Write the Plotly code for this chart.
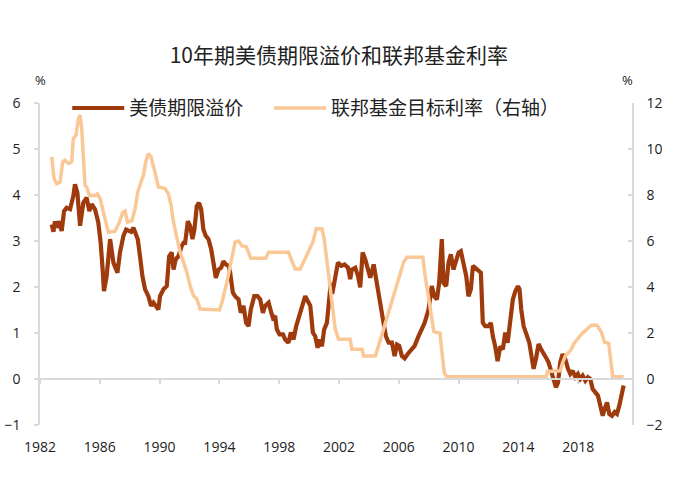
import plotly.graph_objects as go

# --- data ---
tp_years = [1982.78, 1982.90, 1983.00, 1983.12, 1983.23, 1983.45, 1983.61, 1983.78, 1984.01, 1984.23,
            1984.34, 1984.50, 1984.68, 1984.90, 1985.12, 1985.30, 1985.46, 1985.68, 1985.90, 1986.06,
            1986.19, 1986.28, 1986.46, 1986.69, 1986.91, 1987.18, 1987.35, 1987.58, 1987.76, 1987.91,
            1988.10, 1988.25, 1988.36, 1988.54, 1988.69, 1988.85, 1989.03, 1989.25, 1989.43, 1989.59,
            1989.74, 1989.92, 1990.03, 1990.26, 1990.48, 1990.64, 1990.81, 1990.93, 1991.08, 1991.26,
            1991.48, 1991.60, 1991.71, 1991.89, 1992.04, 1992.20, 1992.33, 1992.49, 1992.64, 1992.78,
            1992.93, 1993.09, 1993.27, 1993.45, 1993.60, 1993.76, 1993.94, 1994.12, 1994.27, 1994.43,
            1994.61, 1994.72, 1994.90, 1995.05, 1995.28, 1995.43, 1995.61, 1995.79, 1995.95, 1996.10,
            1996.33, 1996.55, 1996.73, 1996.91, 1997.06, 1997.29, 1997.44, 1997.58, 1997.73, 1997.84,
            1998.02, 1998.25, 1998.40, 1998.62, 1998.78, 1998.96, 1999.14, 1999.36, 1999.58, 1999.74,
            1999.90, 2000.08, 2000.25, 2000.41, 2000.57, 2000.70, 2000.86, 2001.01, 2001.19, 2001.37,
            2001.45, 2001.55, 2001.75, 2001.93, 2002.15, 2002.37, 2002.60, 2002.75, 2002.86, 2003.09,
            2003.27, 2003.42, 2003.58, 2003.76, 2003.94, 2004.09, 2004.32, 2004.47, 2004.65, 2004.83,
            2004.98, 2005.14, 2005.32, 2005.54, 2005.72, 2005.88, 2006.03, 2006.21, 2006.39, 2006.61,
            2006.84, 2007.06, 2007.28, 2007.51, 2007.73, 2007.99, 2008.21, 2008.37, 2008.55, 2008.70,
            2008.88, 2008.99, 2009.17, 2009.33, 2009.48, 2009.66, 2009.84, 2010.00, 2010.15, 2010.33,
            2010.51, 2010.66, 2010.82, 2010.96, 2011.11, 2011.33, 2011.49, 2011.62, 2011.78, 2012.00,
            2012.16, 2012.29, 2012.45, 2012.61, 2012.79, 2012.96, 2013.12, 2013.28, 2013.45, 2013.63,
            2013.79, 2013.97, 2014.08, 2014.19, 2014.35, 2014.57, 2014.73, 2014.91, 2015.02, 2015.17,
            2015.35, 2015.53, 2015.75, 2015.91, 2016.02, 2016.20, 2016.36, 2016.51, 2016.65, 2016.80,
            2016.96, 2017.14, 2017.32, 2017.47, 2017.63, 2017.81, 2017.98, 2018.14, 2018.30, 2018.48,
            2018.65, 2018.81, 2018.97, 2019.14, 2019.32, 2019.48, 2019.64, 2019.77, 2019.93, 2020.08,
            2020.26, 2020.44, 2020.59, 2020.75, 2020.89, 2021.04]
term_premium = [3.36, 3.20, 3.43, 3.29, 3.43, 3.22, 3.65, 3.72, 3.69, 3.98,
                4.23, 4.05, 3.33, 3.83, 3.94, 3.65, 3.80, 3.69, 3.40, 2.96,
                2.38, 1.91, 2.24, 3.04, 2.53, 2.31, 2.75, 3.11, 3.25, 3.22,
                3.20, 3.29, 3.18, 3.04, 2.67, 2.24, 1.95, 1.80, 1.59, 1.66,
                1.59, 1.51, 1.80, 1.95, 2.02, 2.67, 2.75, 2.38, 2.60, 2.67,
                2.89, 2.96, 2.96, 3.43, 3.33, 3.04, 3.25, 3.76, 3.83, 3.69,
                3.25, 3.11, 3.04, 2.82, 2.53, 2.20, 2.38, 2.42, 2.56, 2.49,
                2.46, 2.31, 1.88, 1.80, 1.73, 1.44, 1.59, 1.22, 1.15, 1.51,
                1.80, 1.80, 1.73, 1.44, 1.59, 1.66, 1.48, 1.33, 1.37, 1.08,
                0.97, 0.97, 0.86, 0.79, 1.01, 0.86, 1.15, 1.37, 1.59, 1.80,
                1.70, 1.59, 1.01, 0.93, 0.68, 0.86, 0.71, 1.08, 1.22, 1.80,
                2.09, 1.85, 2.24, 2.53, 2.46, 2.49, 2.42, 2.17, 2.38, 2.42,
                2.24, 1.99, 2.75, 2.60, 2.38, 2.20, 2.49, 2.17, 1.80, 1.51,
                1.22, 0.93, 0.79, 0.79, 0.50, 0.75, 0.72, 0.50, 0.45, 0.55,
                0.65, 0.72, 0.90, 1.08, 1.22, 1.51, 2.02, 1.80, 1.73, 2.09,
                3.04, 2.09, 2.02, 2.53, 2.71, 2.38, 2.56, 2.75, 2.78, 2.53,
                2.24, 1.80, 1.95, 2.46, 2.42, 2.38, 2.31, 1.22, 1.15, 1.15,
                1.22, 0.93, 0.71, 0.39, 0.71, 0.64, 1.01, 0.79, 1.22, 1.73,
                1.90, 2.02, 1.95, 1.51, 1.15, 0.93, 0.79, 0.43, 0.22, 0.43,
                0.76, 0.64, 0.54, 0.43, 0.36, 0.14, -0.08, -0.18, -0.08, 0.36,
                0.54, 0.43, 0.22, 0.11, 0.18, 0.04, 0.11, 0.00, 0.07, -0.04,
                0.04, 0.00, -0.22, -0.29, -0.36, -0.58, -0.80, -0.65, -0.51, -0.76,
                -0.80, -0.72, -0.76, -0.58, -0.36, -0.14]

ffr_years = [1982.78, 1982.94, 1983.12, 1983.34, 1983.52, 1983.67, 1983.90, 1984.12, 1984.23, 1984.41,
             1984.57, 1984.68, 1984.79, 1984.90, 1985.01, 1985.12, 1985.30, 1985.68, 1985.84, 1986.02,
             1986.19, 1986.42, 1986.57, 1987.02, 1987.31, 1987.53, 1987.69, 1987.85, 1988.14, 1988.36,
             1988.54, 1988.76, 1988.92, 1989.07, 1989.25, 1989.43, 1989.59, 1989.74, 1989.92, 1990.37,
             1990.59, 1990.77, 1990.93, 1991.15, 1991.37, 1991.60, 1991.82, 1992.04, 1992.27, 1992.49,
             1992.71, 1994.00, 1994.16, 1994.50, 1994.83, 1995.05, 1995.28, 1995.50, 1995.80, 1996.10,
             1997.10, 1997.29, 1998.62, 1998.85, 1999.07, 1999.41, 1999.63, 1999.96, 2000.25, 2000.48,
             2000.86, 2001.01, 2001.19, 2001.37, 2001.53, 2001.75, 2001.97, 2002.75, 2002.86, 2003.53,
             2003.65, 2004.43, 2004.65, 2004.98, 2005.32, 2005.65, 2005.99, 2006.32, 2006.55, 2007.61,
             2007.76, 2007.99, 2008.21, 2008.35, 2008.75, 2008.88, 2009.04, 2009.21, 2015.85, 2015.95,
             2016.80, 2016.96, 2017.14, 2017.36, 2017.54, 2017.69, 2017.92, 2018.14, 2018.36, 2018.59,
             2018.88, 2019.26, 2019.55, 2019.77, 2020.04, 2020.22, 2020.31, 2021.04]
fed_funds = [9.66, 8.71, 8.49, 8.56, 9.44, 9.51, 9.37, 9.44, 10.46, 10.60,
             11.33, 11.47, 10.90, 9.73, 8.42, 8.35, 7.98, 7.98, 8.05, 7.84,
             7.40, 6.82, 6.38, 6.43, 6.82, 7.23, 7.30, 6.82, 6.88, 7.40,
             8.13, 8.57, 8.86, 9.44, 9.80, 9.66, 9.15, 8.86, 8.35, 8.28,
             8.05, 7.55, 6.82, 6.09, 5.51, 5.08, 4.64, 4.06, 3.62, 3.48,
             3.04, 3.00, 3.30, 4.20, 5.22, 5.95, 6.00, 5.80, 5.75, 5.25,
             5.25, 5.51, 5.51, 5.08, 4.78, 4.78, 5.08, 5.51, 5.95, 6.53,
             6.53, 6.09, 5.08, 4.20, 3.33, 2.17, 1.73, 1.73, 1.29, 1.29,
             1.00, 1.00, 1.45, 2.17, 2.89, 3.62, 4.42, 5.08, 5.29, 5.29,
             4.49, 3.62, 2.75, 2.05, 2.00, 1.29, 0.28, 0.10, 0.10, 0.33,
             0.36, 0.71, 1.00, 1.15, 1.29, 1.51, 1.73, 1.89, 2.04, 2.17,
             2.34, 2.34, 2.04, 1.60, 1.55, 0.60, 0.10, 0.10]

x_ticks = [1982, 1986, 1990, 1994, 1998, 2002, 2006, 2010, 2014, 2018]
left_ticks = [-1, 0, 1, 2, 3, 4, 5, 6]
right_ticks = [-2, 0, 2, 4, 6, 8, 10, 12]

title_text = "10年期美债期限溢价和联邦基金利率"
name_tp = "美债期限溢价"
name_ffr = "联邦基金目标利率（右轴）"

DARK = "#9E3A0B"
LIGHT = "#FAC896"
GRID = "#D9D9D9"
CJK = "Noto Sans CJK SC"
LAT = "Open Sans"
TXT = "#222222"

fig = go.Figure()
fig.add_trace(go.Scatter(x=tp_years, y=term_premium, mode="lines", name=name_tp,
                         line=dict(color=DARK, width=4.2), xaxis="x", yaxis="y",
                         legend="legend"))
fig.add_trace(go.Scatter(x=ffr_years, y=fed_funds, mode="lines", name=name_ffr,
                         line=dict(color=LIGHT, width=3.5), xaxis="x2", yaxis="y2",
                         legend="legend2"))

xr = [1982, 2021.6]
leg_common = dict(orientation="h", xanchor="left", yanchor="middle",
                  bgcolor="rgba(0,0,0,0)", font=dict(family=CJK, size=19, color=TXT),
                  itemwidth=52)
fig.update_layout(
    width=675, height=481,
    margin=dict(l=40, r=43, t=103, b=56, autoexpand=False),
    paper_bgcolor="white", plot_bgcolor="white",
    title=dict(text=title_text, x=0.502, xanchor="center", y=0.884, yanchor="middle",
               font=dict(family=CJK, size=21, color=TXT)),
    showlegend=True,
    legend=dict(x=0.046, y=0.984, **leg_common),
    legend2=dict(x=0.387, y=0.984, **leg_common),
    xaxis=dict(range=xr, tickvals=x_ticks, ticktext=[str(t) for t in x_ticks],
               showline=False, showgrid=False, zeroline=False, ticks="",
               ticklabelstandoff=12,
               tickfont=dict(family=LAT, size=14, color=TXT)),
    xaxis2=dict(range=xr, overlaying="x", anchor="free", position=1/7,
                tickvals=x_ticks, showticklabels=False, showline=True, linecolor=GRID,
                linewidth=1.5, ticks="outside", ticklen=4, tickcolor=GRID, tickwidth=1.5,
                showgrid=False, zeroline=False),
    yaxis=dict(range=[-1, 6], tickvals=left_ticks, showline=True, linecolor=GRID,
               linewidth=1.5, ticks="outside", ticklen=4, tickcolor=GRID, tickwidth=1.5,
               showgrid=False, zeroline=False, ticklabelstandoff=11,
               tickfont=dict(family=LAT, size=14, color=TXT)),
    yaxis2=dict(range=[-2, 12], tickvals=right_ticks, overlaying="y", side="right",
                anchor="x", showline=True, linecolor=GRID, linewidth=1.5,
                ticks="inside", ticklen=4, tickcolor=GRID, tickwidth=1.5,
                showgrid=False, zeroline=False, ticklabelstandoff=10,
                tickfont=dict(family=LAT, size=14, color=TXT)),
)

fig.add_annotation(text="%", xref="paper", yref="paper", x=0.0, y=1.072,
                   xanchor="center", yanchor="middle", showarrow=False,
                   font=dict(family=LAT, size=13, color=TXT))
fig.add_annotation(text="%", xref="paper", yref="paper", x=0.993, y=1.072,
                   xanchor="center", yanchor="middle", showarrow=False,
                   font=dict(family=LAT, size=13, color=TXT))

fig.write_html("out.html", config={"displayModeBar": False},
               post_script="document.body.style.margin='0';")
